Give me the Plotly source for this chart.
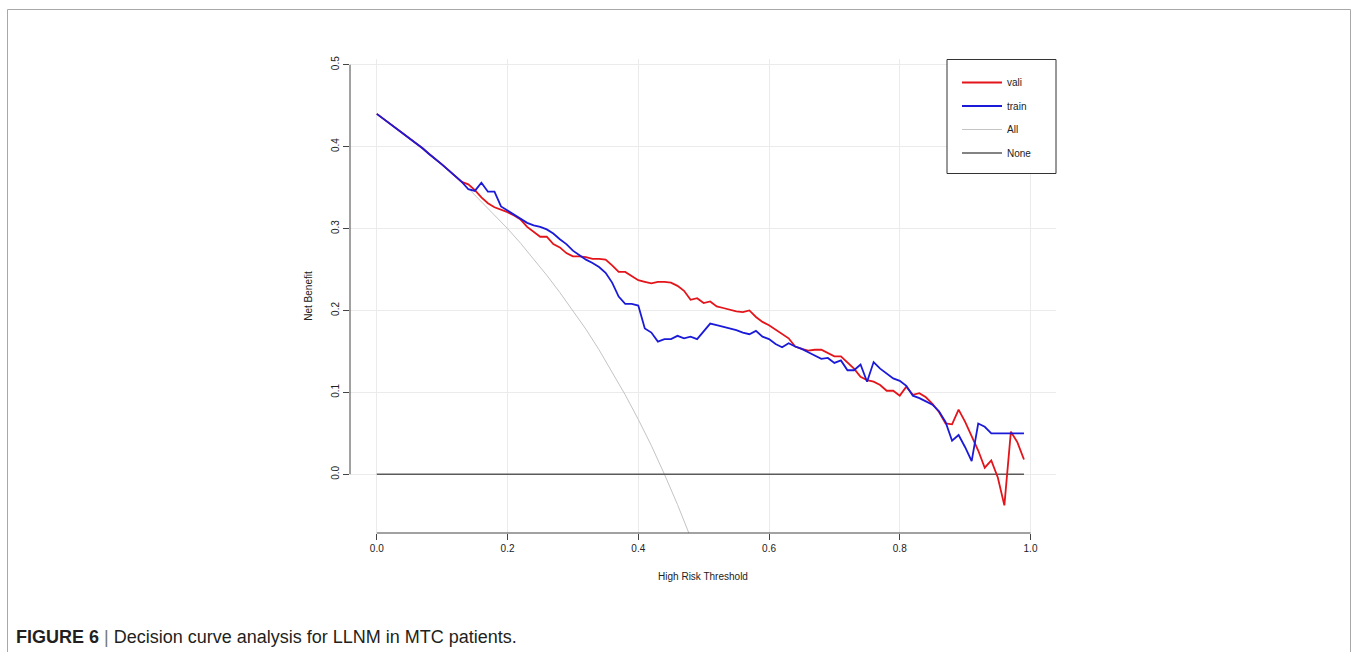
import plotly.graph_objects as go

# ---------------- data ----------------
thresholds = [round(i * 0.01, 2) for i in range(100)]

shared_start = [0.440, 0.434, 0.429, 0.423, 0.417, 0.411, 0.404, 0.398, 0.391,
                0.385, 0.378, 0.371, 0.364]

train_tail = [0.357, 0.348, 0.346, 0.356, 0.345, 0.345, 0.327, 0.322, 0.317, 0.313,
              0.307, 0.304, 0.302, 0.299, 0.294, 0.287, 0.281, 0.273, 0.267, 0.262,
              0.258, 0.253, 0.246, 0.234, 0.217, 0.208, 0.208, 0.206, 0.178, 0.173,
              0.162, 0.165, 0.165, 0.169, 0.166, 0.168, 0.165, 0.174, 0.184, 0.182,
              0.180, 0.178, 0.176, 0.173, 0.171, 0.175, 0.168, 0.165, 0.159, 0.155,
              0.160, 0.156, 0.153, 0.149, 0.145, 0.141, 0.142, 0.136, 0.139, 0.127,
              0.127, 0.134, 0.113, 0.137, 0.129, 0.123, 0.117, 0.114, 0.108, 0.096,
              0.093, 0.089, 0.085, 0.077, 0.064, 0.041, 0.048, 0.033, 0.016, 0.062,
              0.058, 0.050, 0.050, 0.050, 0.050, 0.050, 0.050]

vali_tail = [0.357, 0.354, 0.347, 0.338, 0.331, 0.326, 0.323, 0.320, 0.316, 0.311,
             0.302, 0.296, 0.290, 0.290, 0.281, 0.277, 0.270, 0.266, 0.266, 0.265,
             0.263, 0.263, 0.262, 0.255, 0.247, 0.247, 0.242, 0.237, 0.235, 0.233,
             0.235, 0.235, 0.234, 0.230, 0.224, 0.213, 0.215, 0.209, 0.211, 0.205,
             0.203, 0.201, 0.199, 0.198, 0.200, 0.192, 0.186, 0.182, 0.177, 0.171,
             0.166, 0.156, 0.153, 0.151, 0.152, 0.152, 0.148, 0.144, 0.144, 0.136,
             0.129, 0.119, 0.115, 0.113, 0.109, 0.102, 0.102, 0.096, 0.107, 0.097,
             0.099, 0.094, 0.086, 0.076, 0.062, 0.061, 0.079, 0.064, 0.047, 0.029,
             0.008, 0.017, -0.004, -0.038, 0.052, 0.039, 0.018]

train_nb = shared_start + train_tail
vali_nb = shared_start + vali_tail

all_thresholds = [0.00, 0.02, 0.04, 0.06, 0.08, 0.10, 0.12, 0.14, 0.16, 0.18, 0.20,
                  0.22, 0.24, 0.26, 0.28, 0.30, 0.32, 0.34, 0.36, 0.38, 0.40, 0.42,
                  0.44, 0.46, 0.48]
all_nb = [0.440, 0.429, 0.417, 0.404, 0.391, 0.378, 0.364, 0.349, 0.333, 0.317, 0.300,
          0.282, 0.263, 0.243, 0.222, 0.200, 0.177, 0.152, 0.125, 0.097, 0.067, 0.035,
          0.000, -0.037, -0.077]

none_thresholds = [0.0, 0.99]
none_nb = [0.0, 0.0]

x_ticks = [0.0, 0.2, 0.4, 0.6, 0.8, 1.0]
x_tick_text = ["0.0", "0.2", "0.4", "0.6", "0.8", "1.0"]
y_ticks = [0.0, 0.1, 0.2, 0.3, 0.4, 0.5]
y_tick_text = ["0.0", "0.1", "0.2", "0.3", "0.4", "0.5"]

# ---------------- figure ----------------
FONT = "Liberation Sans, Arial, sans-serif"
fig = go.Figure()

fig.add_trace(go.Scatter(x=all_thresholds, y=all_nb, mode="lines", name="All",
                         line=dict(color="#c4c4c4", width=1), legendrank=3,
                         legendgroup="c"))
fig.add_trace(go.Scatter(x=none_thresholds, y=none_nb, mode="lines", name="None",
                         line=dict(color="#5a5a5a", width=1.5), legendrank=4,
                         legendgroup="d"))
fig.add_trace(go.Scatter(x=thresholds, y=vali_nb, mode="lines", name="vali",
                         line=dict(color="#e3141a", width=1.8), legendrank=1,
                         legendgroup="a"))
fig.add_trace(go.Scatter(x=thresholds, y=train_nb, mode="lines", name="train",
                         line=dict(color="#1a1ad8", width=1.8), legendrank=2,
                         legendgroup="b"))

W, H = 1352, 652
L, R, T, B = 350, 1352 - 1056, 59, 652 - 533
pw, ph = W - L - R, H - T - B


def px_to_paper_x(px):
    return (px - L) / pw


def py_to_paper_y(py):
    return (H - B - py) / ph


fig.update_layout(
    width=W, height=H,
    margin=dict(l=L, r=R, t=T, b=B, pad=0),
    paper_bgcolor="white", plot_bgcolor="white",
    font=dict(family=FONT, size=10, color="#222222"),
    showlegend=True,
    legend=dict(x=px_to_paper_x(957), y=py_to_paper_y(68), xanchor="left", yanchor="top",
                borderwidth=0, bgcolor="rgba(0,0,0,0)",
                font=dict(size=10, color="#222222"),
                itemwidth=40, tracegroupgap=4.5, traceorder="grouped"),
    xaxis=dict(range=[-0.041, 1.039], tickvals=x_ticks, ticktext=x_tick_text,
               tickfont=dict(size=10),
               showgrid=True, gridcolor="#ebebeb", gridwidth=1, zeroline=False,
               showline=False, ticks="outside", ticklen=6, tickcolor="#444444",
               title=dict(text="High Risk Threshold", standoff=19,
                          font=dict(size=10))),
    yaxis=dict(range=[-0.0717, 0.507], tickvals=y_ticks, ticktext=y_tick_text,
               tickangle=-90, tickfont=dict(size=10),
               showgrid=True, gridcolor="#ebebeb", gridwidth=1, zeroline=False,
               showline=False, ticks="outside", ticklen=6, tickcolor="#444444",
               title=dict(text="Net Benefit", standoff=15,
                          font=dict(size=10))),
)

# R-style axis lines spanning only from first to last tick
fig.add_shape(type="line", xref="x", yref="paper", x0=0, x1=1, y0=0, y1=0,
              line=dict(color="#444444", width=1))
fig.add_shape(type="line", xref="paper", yref="y", x0=0, x1=0, y0=0, y1=0.5,
              line=dict(color="#444444", width=1))

# legend box (R legend frame)
fig.add_shape(type="rect", xref="paper", yref="paper",
              x0=px_to_paper_x(947), x1=px_to_paper_x(1056),
              y0=py_to_paper_y(173.5), y1=py_to_paper_y(59.5),
              line=dict(color="#333333", width=1), fillcolor="white", layer="above")

# outer figure frame (open at bottom)
fx0, fx1 = px_to_paper_x(7.5), px_to_paper_x(1350.5)
fy_top, fy_bot = py_to_paper_y(9.5), py_to_paper_y(700)
for (xa, ya, xb, yb) in [(fx0, fy_bot, fx0, fy_top), (fx0, fy_top, fx1, fy_top),
                         (fx1, fy_top, fx1, fy_bot)]:
    fig.add_shape(type="line", xref="paper", yref="paper", x0=xa, y0=ya, x1=xb, y1=yb,
                  line=dict(color="#a8a8a8", width=1))

fig.add_annotation(
    text="<b>FIGURE 6</b> <span style='color:#777777'>|</span> Decision curve analysis for LLNM in MTC patients.",
    xref="paper", yref="paper", x=px_to_paper_x(14), y=py_to_paper_y(637),
    xanchor="left", yanchor="middle", showarrow=False,
    font=dict(family=FONT, size=18, color="#231f20"))

fig.write_html("out.html", config={"displayModeBar": False},
               post_script="document.body.style.margin='0';")
